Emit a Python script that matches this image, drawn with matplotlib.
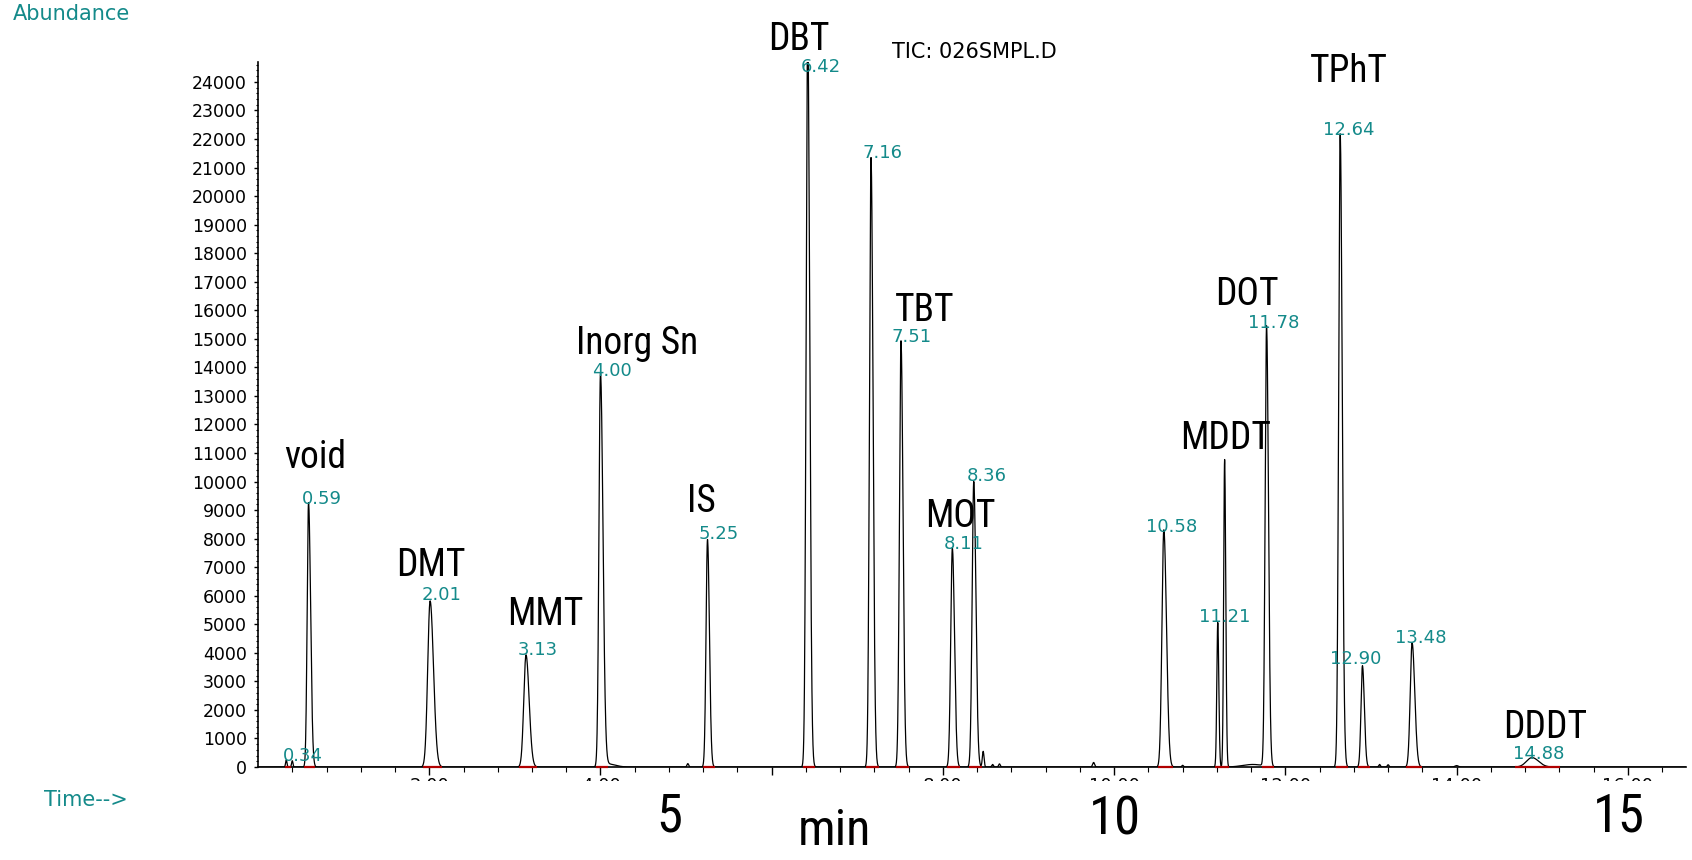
import numpy as np
import matplotlib
matplotlib.use("Agg")
import matplotlib.pyplot as plt
from matplotlib import font_manager as fm
from matplotlib.patches import Rectangle

# ---------------- data ----------------
peak_times   = [0.33, 0.40, 0.59, 2.01, 3.13, 4.00, 4.08, 5.02, 5.25, 6.42, 7.16, 7.51,
                8.11, 8.36, 8.47, 8.58, 8.66, 9.76, 10.58, 10.80, 11.21, 11.29, 11.62,
                11.78, 12.64, 12.90, 13.10, 13.20, 13.48, 14.00, 14.88]
peak_heights = [250, 220, 9260, 5820, 3930, 13760, 110, 120, 7970, 26000, 21350, 14930,
                7670, 10000, 550, 90, 110, 160, 8310, 60, 5060, 10770, 90,
                15420, 22180, 3550, 90, 80, 4350, 50, 330]
peak_sigmas  = [0.008, 0.008, 0.016, 0.028, 0.026, 0.018, 0.06, 0.01, 0.017, 0.018, 0.018, 0.018,
                0.019, 0.019, 0.010, 0.010, 0.010, 0.012, 0.022, 0.010, 0.011, 0.011, 0.12,
                0.017, 0.018, 0.017, 0.010, 0.010, 0.022, 0.020, 0.065]
peak_tails   = [1.0, 1.0, 1.5, 1.4, 1.4, 1.6, 1.5, 1.0, 1.3, 1.3, 1.3, 1.3,
                1.3, 1.3, 1.0, 1.0, 1.0, 1.0, 1.4, 1.0, 1.1, 1.2, 1.0,
                1.3, 1.3, 1.3, 1.0, 1.0, 1.4, 1.0, 1.2]

# integrated peaks (red baseline markers) and retention-time labels
rt_values = [0.34, 0.59, 2.01, 3.13, 4.00, 5.25, 6.42, 7.16, 7.51, 8.11, 8.36,
             10.58, 11.21, 11.29, 11.78, 12.64, 12.90, 13.48, 14.88]
rt_labels = ["0.34", "0.59", "2.01", "3.13", "4.00", "5.25", "6.42", "7.16", "7.51",
             "8.11", "8.36", "10.58", "11.21", "", "11.78", "12.64", "12.90", "13.48", "14.88"]

compound_names = ["void", "DMT", "MMT", "Inorg Sn", "IS", "DBT", "TBT", "MOT",
                  "MDDT", "DOT", "TPhT", "DDDT"]

y_ticks = list(range(0, 24001, 1000))
x_tick_labels = ["2.00", "4.00", "", "8.00", "10.00", "12.00", "14.00", "16.00"]
outer_axis_labels = ["5", "10", "15"]

# ---------------- layout (positions only) ----------------
rt_label_pos = [(0.52, 380), (0.743, 9400), (2.142, 6040), (3.264, 4110), (4.134, 13880),
                (5.382, 8150), (6.579, 24520), (7.298, 21500), (7.638, 15050), (8.243, 7800),
                (8.508, 10200), (10.676, 8420), (11.294, 5250), None, (11.861, 15560),
                (12.744, 22330), (12.82, 3780), (13.576, 4530), (14.963, 470)]
name_pos = [(0.667, 10850), (2.016, 7050), (3.352, 5350), (4.424, 14850), (5.18, 9300),
            (6.315, 25500), (7.79, 15980), (8.205, 8760), (11.307, 11500), (11.547, 16560),
            (12.744, 24380), (15.039, 1400)]
outer_pos = [(0.3954, 0.050), (0.659, 0.0465), (0.9568, 0.050)]

# ---------------- fonts ----------------
names = {f.name for f in fm.fontManager.ttflist}
narrow_family = None
narrow_stretch = "normal"
for cand in ["Liberation Sans Narrow", "Arial Narrow", "Roboto Condensed", "Open Sans Condensed"]:
    if cand in names:
        narrow_family = cand
        break
if narrow_family is None:
    cond = [f for f in fm.fontManager.ttflist
            if f.name == "DejaVu Sans" and str(f.stretch) in ("condensed", "semi-condensed")]
    if cond:
        narrow_family = "DejaVu Sans"
        narrow_stretch = "condensed"
    else:
        narrow_family = "Liberation Sans"
wide_family = "DejaVu Sans"

TEAL = "#148a8a"

# ---------------- figure ----------------
fig = plt.figure(figsize=(16.92, 8.6), dpi=100)
ax = fig.add_axes([0.1525, 0.1081, 0.844, 0.8199])

t = np.arange(0.0, 16.70, 0.002)
signal = np.zeros_like(t)
for tc, h, s, k in zip(peak_times, peak_heights, peak_sigmas, peak_tails):
    sig = np.where(t < tc, s, s * k)
    signal += h * np.exp(-0.5 * ((t - tc) / sig) ** 2)

ax.plot(t, signal, color="black", lw=0.9, zorder=3)

# red integration baseline markers
for rv in rt_values:
    i = int(np.argmin(np.abs(np.array(peak_times) - rv)))
    s = peak_sigmas[i]
    ax.plot([rv - 3.0 * s, rv + 5.0 * s], [0, 0], color="#b00000", lw=1.6,
            zorder=4, clip_on=False, solid_capstyle="butt")

ax.set_xlim(0, 16.68)
ax.set_ylim(0, 24700)

for side in ("top", "right"):
    ax.spines[side].set_visible(False)
for side in ("left", "bottom"):
    ax.spines[side].set_linewidth(1.2)

ax.set_yticks(y_ticks)
ax.set_yticklabels([str(v) for v in y_ticks], fontfamily=wide_family, fontsize=12.5)
ax.set_yticks(np.arange(0, 24700, 200), minor=True)
ax.tick_params(axis="y", which="major", direction="out", length=3, width=1, pad=5)
ax.tick_params(axis="y", which="minor", direction="out", length=1.7, width=0.8)

ax.set_xticks([2, 4, 6, 8, 10, 12, 14, 16])
ax.set_xticklabels(x_tick_labels, fontfamily=wide_family, fontsize=13)
ax.set_xticks(np.arange(0.4, 16.68, 0.4), minor=True)
ax.tick_params(axis="x", which="major", direction="out", length=5.5, width=1, pad=1.5)
ax.tick_params(axis="x", which="minor", direction="out", length=3.5, width=0.8)

# retention-time labels
for lab, pos in zip(rt_labels, rt_label_pos):
    if pos is None or not lab:
        continue
    ax.text(pos[0], pos[1], lab, color=TEAL, fontfamily=wide_family, fontsize=13,
            ha="center", va="center", clip_on=False, zorder=5)

# compound names
for nm, pos in zip(compound_names, name_pos):
    ax.text(pos[0], pos[1], nm, color="black", fontfamily=narrow_family,
            fontstretch=narrow_stretch, fontsize=27, ha="center", va="center",
            clip_on=False, zorder=5)

# white band hiding lower part of the original time tick labels
fig.patches.append(Rectangle((0.118, 0.0), 0.882, 0.0919, transform=fig.transFigure,
                             facecolor="white", edgecolor="none", zorder=5))

fig.text(0.0077, 0.9837, "Abundance", color=TEAL, fontfamily=wide_family, fontsize=15,
         ha="left", va="center")
fig.text(0.5756, 0.9395, "TIC: 026SMPL.D", color="black", fontfamily=wide_family,
         fontsize=15, ha="center", va="center", zorder=6)
fig.text(0.0508, 0.0698, "Time-->", color=TEAL, fontfamily=wide_family, fontsize=15,
         ha="center", va="center", zorder=6)

for lab, pos in zip(outer_axis_labels, outer_pos):
    fig.text(pos[0], pos[1], lab, color="black", fontfamily=narrow_family,
             fontstretch=narrow_stretch, fontsize=38, ha="center", va="center", zorder=7)
fig.text(0.493, 0.034, "min", color="black", fontfamily=narrow_family,
         fontstretch=narrow_stretch, fontsize=36, ha="center", va="center", zorder=7)

fig.savefig("out.png", dpi=100)
